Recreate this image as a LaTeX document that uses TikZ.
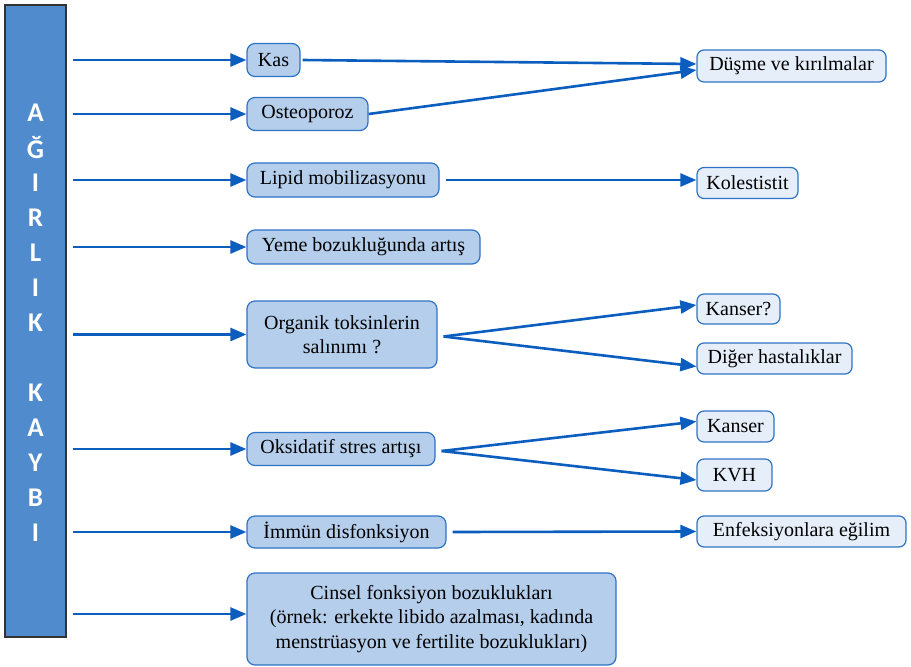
\documentclass[tikz,border=0pt]{standalone}
\usepackage{fontspec}
\setmainfont{Liberation Serif}
\newfontfamily\barfont{Carlito}
\usetikzlibrary{arrows.meta}
\definecolor{arrowblue}{HTML}{0B5EBE}
\definecolor{barfill}{HTML}{4F8BCD}
\definecolor{barline}{HTML}{333333}
\definecolor{boxline}{HTML}{2F73C4}
\definecolor{midfill}{HTML}{B4CEEB}
\definecolor{rightfill}{HTML}{E5EEF9}
\begin{document}
\begin{tikzpicture}[x=1pt,y=-1pt,
  midbox/.style={draw=boxline, fill=midfill, rounded corners=8pt, line width=1.2pt,
    font=\fontsize{20}{24.5}\selectfont, inner sep=0pt, align=center},
  rightbox/.style={draw=boxline, fill=rightfill, rounded corners=7pt, line width=1.2pt,
    font=\fontsize{20}{24.5}\selectfont, inner sep=0pt, align=center},
  barbox/.style={draw=barline, fill=barfill, line width=1.2pt, inner sep=0pt},
  barletter/.style={text=white, font=\barfont\bfseries\fontsize{27}{30}\selectfont, inner sep=0pt},
  arr/.style={draw=arrowblue, line width=2.6pt, -{Triangle[length=16pt,width=13pt]}}
]
\useasboundingbox (0,0) rectangle (911,667);

% left bar
\node[barbox, minimum width=61pt, minimum height=632pt] (bar) at (35.5,321) {};
\node[barletter] (l1) at (35.5,113) {A};
\node[barletter] (l2) at (35.5,148) {Ğ};
\node[barletter] (l3) at (35.5,183) {I};
\node[barletter] (l4) at (35.5,218) {R};
\node[barletter] (l5) at (35.5,253) {L};
\node[barletter] (l6) at (35.5,288) {I};
\node[barletter] (l7) at (35.5,323) {K};
\node[barletter] (l8) at (35.5,393) {K};
\node[barletter] (l9) at (35.5,428) {A};
\node[barletter] (l10) at (35.5,463) {Y};
\node[barletter] (l11) at (35.5,498) {B};
\node[barletter] (l12) at (35.5,533) {I};

% middle boxes
\node[midbox, minimum width=53pt, minimum height=33pt] (kas) at (273.5,60) {Kas};
\node[midbox, minimum width=121pt, minimum height=33pt] (osteo) at (307.5,114) {Osteoporoz};
\node[midbox, minimum width=192pt, minimum height=34pt] (lipid) at (343,180) {Lipid mobilizasyonu};
\node[midbox, minimum width=233pt, minimum height=34pt] (yeme) at (363.5,247) {Yeme bozukluğunda artış};
\node[midbox, minimum width=190pt, minimum height=67pt] (org) at (342,334.5) {Organik toksinlerin\\salınımı ?};
\node[midbox, minimum width=188pt, minimum height=33pt] (oks) at (341,449) {Oksidatif stres artışı};
\node[midbox, minimum width=199pt, minimum height=32pt] (imm) at (346.5,532) {İmmün disfonksiyon};
\node[midbox, minimum width=369pt, minimum height=92pt] (cin) at (431.5,619) {Cinsel fonksiyon bozuklukları\\(örnek: erkekte libido azalması, kadında\\menstrüasyon ve fertilite bozuklukları)};

% right boxes
\node[rightbox, minimum width=189pt, minimum height=32pt] (dus) at (791.5,66) {Düşme ve kırılmalar};
\node[rightbox, minimum width=101pt, minimum height=31pt] (kol) at (747.5,183) {Kolestistit};
\node[rightbox, minimum width=83pt, minimum height=30pt] (kanq) at (738.5,309) {Kanser?};
\node[rightbox, minimum width=155pt, minimum height=31pt] (dig) at (774.5,358.5) {Diğer hastalıklar};
\node[rightbox, minimum width=77pt, minimum height=31pt] (kan) at (735.5,426.5) {Kanser};
\node[rightbox, minimum width=75pt, minimum height=32pt] (kvh) at (734.5,475) {KVH};
\node[rightbox, minimum width=209pt, minimum height=31pt] (enf) at (801.5,531.5) {Enfeksiyonlara eğilim};

% arrows from bar
\draw[arr] ([xshift=6pt]bar.east |- kas.west) -- (kas.west);
\draw[arr] ([xshift=6pt]bar.east |- osteo.west) -- (osteo.west);
\draw[arr] ([xshift=6pt]bar.east |- lipid.west) -- (lipid.west);
\draw[arr] ([xshift=6pt]bar.east |- yeme.west) -- (yeme.west);
\draw[arr] ([xshift=6pt]bar.east |- org.west) -- (org.west);
\draw[arr] ([xshift=6pt]bar.east |- oks.west) -- (oks.west);
\draw[arr] ([xshift=6pt]bar.east |- imm.west) -- (imm.west);
\draw[arr] ([xshift=6pt,yshift=5pt]bar.east |- cin.west) -- ([yshift=5pt]cin.west);

% arrows to right
\draw[arr] ([xshift=2pt]kas.east) -- ([yshift=2pt]dus.west);
\draw[arr] (osteo.east) -- ([yshift=-4pt]dus.west);
\draw[arr] ([xshift=6pt]lipid.east) -- (kol.west |- lipid.east);
\draw[arr] ([xshift=6pt,yshift=-2pt]org.east) -- ([yshift=4pt]kanq.west);
\draw[arr] ([xshift=6pt,yshift=-2pt]org.east) -- ([yshift=-8pt]dig.west);
\draw[arr] ([xshift=6pt,yshift=-2pt]oks.east) -- ([yshift=5pt]kan.west);
\draw[arr] ([xshift=6pt,yshift=-2pt]oks.east) -- ([yshift=-5pt]kvh.west);
\draw[arr] ([xshift=6pt]imm.east) -- (enf.west);
\end{tikzpicture}
\end{document}
